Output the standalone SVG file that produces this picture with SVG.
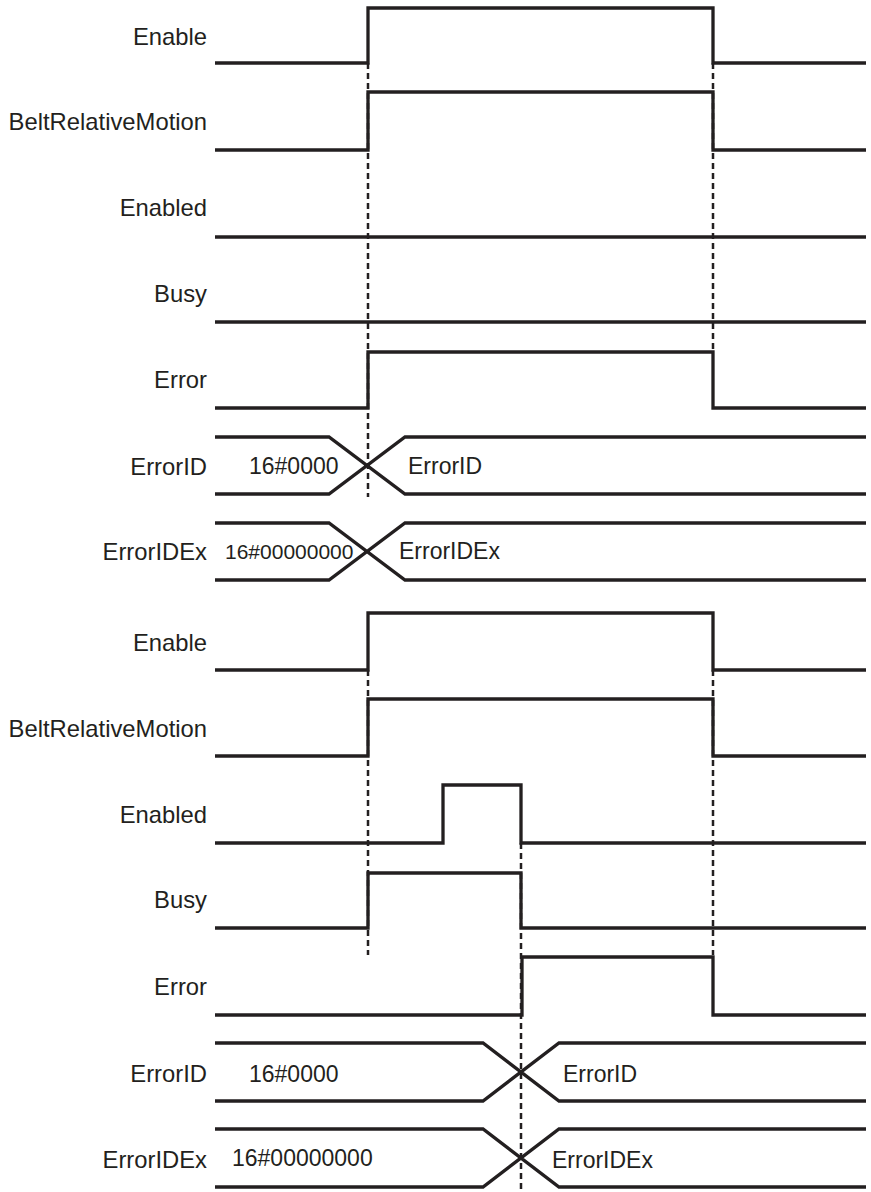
<svg xmlns="http://www.w3.org/2000/svg" width="871" height="1192" viewBox="0 0 871 1192">
<style>
.sig{fill:none;stroke:#231f20;stroke-width:3.3;stroke-linejoin:miter}
.dash{fill:none;stroke:#231f20;stroke-width:2.5;stroke-dasharray:6 4}
.lbl{font-family:"Liberation Sans",Arial,sans-serif;font-size:23.8px;fill:#231f20;text-anchor:end}
.val{font-family:"Liberation Sans",Arial,sans-serif;font-size:23px;fill:#231f20}
</style>
<rect width="871" height="1192" fill="#ffffff"/>
<g id="connectors">
<path class="dash" d="M368,63 V497"/>
<path class="dash" d="M713,63 V352"/>
<path class="dash" d="M368,670 V955"/>
<path class="dash" d="M713,670 V955"/>
<path class="dash" d="M521,843 V1192"/>
</g>
<g id="top-enable"><text class="lbl" x="207" y="45">Enable</text><path class="sig" d="M215,63 H368 V8 H713 V63 H866"/></g>
<g id="top-belt"><text class="lbl" x="207" y="130">BeltRelativeMotion</text><path class="sig" d="M215,150 H368 V92 H713 V150 H866"/></g>
<g id="top-enabled"><text class="lbl" x="207" y="216">Enabled</text><path class="sig" d="M215,237 H866"/></g>
<g id="top-busy"><text class="lbl" x="207" y="302">Busy</text><path class="sig" d="M215,322 H866"/></g>
<g id="top-error"><text class="lbl" x="207" y="388">Error</text><path class="sig" d="M215,408 H368 V352 H713 V408 H866"/></g>
<g id="top-errorid"><text class="lbl" x="207" y="475">ErrorID</text><path class="sig" d="M215,437 H329 L405,494 H866 M215,494 H329 L405,437 H866"/><text class="val" x="249" y="474">16#0000</text><text class="val" x="408" y="474">ErrorID</text></g>
<g id="top-errorid-ex"><text class="lbl" x="207" y="560">ErrorIDEx</text><path class="sig" d="M215,523 H329 L405,580 H866 M215,580 H329 L405,523 H866"/><text class="val" x="225" y="559" style="font-size:21px">16#00000000</text><text class="val" x="399" y="559">ErrorIDEx</text></g>
<g id="bot-enable"><text class="lbl" x="207" y="651">Enable</text><path class="sig" d="M215,670 H368 V613 H713 V670 H866"/></g>
<g id="bot-belt"><text class="lbl" x="207" y="737">BeltRelativeMotion</text><path class="sig" d="M215,756 H368 V699 H713 V756 H866"/></g>
<g id="bot-enabled"><text class="lbl" x="207" y="823">Enabled</text><path class="sig" d="M215,843 H443 V785 H521 V843 H866"/></g>
<g id="bot-busy"><text class="lbl" x="207" y="908">Busy</text><path class="sig" d="M215,928 H368 V873 H521 V928 H866"/></g>
<g id="bot-error"><text class="lbl" x="207" y="995">Error</text><path class="sig" d="M215,1015 H522 V957 H713 V1015 H866"/></g>
<g id="bot-errorid"><text class="lbl" x="207" y="1082">ErrorID</text><path class="sig" d="M215,1043 H483 L559,1101 H866 M215,1101 H483 L559,1043 H866"/><text class="val" x="249" y="1082">16#0000</text><text class="val" x="563" y="1082">ErrorID</text></g>
<g id="bot-errorid-ex"><text class="lbl" x="207" y="1168">ErrorIDEx</text><path class="sig" d="M215,1129 H483 L559,1187 H866 M215,1187 H483 L559,1129 H866"/><text class="val" x="232" y="1166">16#00000000</text><text class="val" x="552" y="1168">ErrorIDEx</text></g>
</svg>
